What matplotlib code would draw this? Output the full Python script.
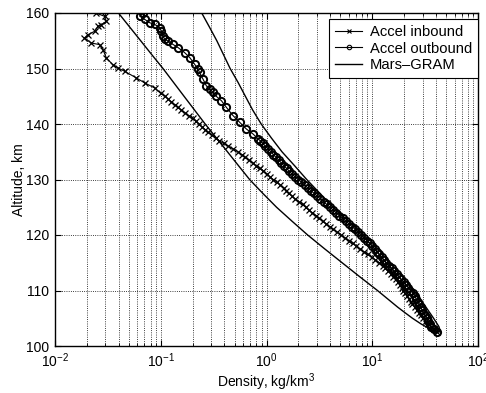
import matplotlib
matplotlib.use("Agg")
import matplotlib.pyplot as plt
from matplotlib.ticker import LogLocator, NullFormatter, MultipleLocator

plt.rcParams['font.family'] = ['Liberation Sans', 'DejaVu Sans']
plt.rcParams['mathtext.default'] = 'regular'

# ---- data (density kg/km^3, altitude km) ----
inbound_alt = [160.0, 159.4, 158.5, 157.9, 157.6, 156.7, 156.1, 155.5, 154.6, 154.3,
               153.4, 151.9, 150.7, 150.1, 149.5, 148.3, 147.4, 146.5, 145.5,
               145, 144.5, 144, 143.5, 143, 142.5, 142, 141.5, 141, 140.5, 140,
               139.5, 139, 138.5, 138, 137.5, 137, 136.5, 136, 135.5, 135,
               134.5, 134, 133.5, 133, 132.5, 132, 131.5, 131, 130.5, 130,
               129.5, 129, 128.5, 128, 127.5, 127, 126.5, 126, 125.5, 125,
               124.5, 124, 123.5, 123, 122.5, 122, 121.5, 121, 120.5, 120,
               119.5, 119, 118.5, 118, 117.5, 117, 116.5, 116, 115.5, 115,
               114.5, 114, 113.5, 113, 112.5, 112, 111.5, 111, 110.5, 110,
               109.5, 109, 108.5, 108, 107.5, 107, 106.5, 106, 105.5, 105,
               104.5, 104, 103.5, 103, 102.5]
inbound_dens = [0.0245, 0.0294, 0.0306, 0.0274, 0.0254, 0.0237, 0.0205, 0.0190, 0.0220, 0.0264,
                0.0284, 0.0306, 0.0352, 0.0394, 0.0455, 0.0588, 0.0705, 0.0876, 0.100,
                0.110, 0.117, 0.126, 0.135, 0.145, 0.157, 0.170, 0.184, 0.200, 0.214, 0.229,
                0.245, 0.263, 0.282, 0.305, 0.331, 0.355, 0.394, 0.437, 0.484, 0.537,
                0.582, 0.631, 0.684, 0.741, 0.794, 0.861, 0.933, 1.00, 1.07, 1.16,
                1.26, 1.35, 1.45, 1.53, 1.62, 1.74, 1.86, 2.02, 2.19, 2.34,
                2.51, 2.72, 2.95, 3.16, 3.39, 3.67, 3.98, 4.27, 4.68, 5.07,
                5.50, 6.03, 6.53, 7.08, 7.67, 8.32, 9.02, 9.89, 10.7, 11.7,
                12.6, 13.3, 14.1, 15.1, 15.8, 16.6, 17.4, 18.2, 19.1, 19.7,
                20.4, 21.4, 22.4, 23.2, 24.0, 25.1, 26.3, 27.5, 28.8, 30.2,
                32.0, 33.9, 36.3, 38.5, 40.7]

outbound_alt = [102.5, 103, 103.5, 104, 104.5, 105, 105.5, 106, 106.5, 107,
                107.5, 108, 108.5, 109, 109.5, 110, 110.5, 111, 111.5, 112,
                112.5, 113, 113.5, 114, 114.5, 115, 115.5, 116, 116.5, 117,
                117.5, 118, 118.5, 119, 119.5, 120, 120.5, 121, 121.5, 122,
                122.5, 123, 123.5, 124, 124.5, 125, 125.5, 126, 126.5, 127,
                127.5, 128, 128.5, 129, 129.5, 130, 130.5, 131, 131.5, 132,
                132.5, 133, 133.5, 134, 134.5, 135, 135.5, 136, 136.5, 137,
                137.31, 138.2, 139.1, 140.3, 141.5, 142.99, 144.19, 144.97, 145.69, 146.28,
                146.88, 148.08, 149.28, 149.87, 150.77, 151.97, 152.87, 153.76, 154.36, 154.96,
                155.26, 155.86, 156.76, 157.36, 157.95, 158.25, 158.85, 159.45, 159.93]
outbound_dens = [40.7, 38.5, 36.3, 35.1, 33.9, 32.7, 31.6, 30.5, 29.5, 28.8,
                 27.9, 26.9, 26.0, 25.1, 24.3, 22.9, 21.9, 20.9, 20.0, 18.8,
                 17.8, 17.0, 16.2, 15.3, 14.5, 13.6, 12.9, 12.3, 11.7, 11.2,
                 10.6, 10.0, 9.44, 8.91, 8.32, 7.76, 7.33, 6.92, 6.46, 6.03,
                 5.62, 5.25, 4.90, 4.57, 4.27, 3.98, 3.72, 3.47, 3.24, 3.02,
                 2.82, 2.63, 2.45, 2.29, 2.14, 2.00, 1.86, 1.74, 1.64, 1.55,
                 1.46, 1.38, 1.30, 1.23, 1.16, 1.10, 1.035, 0.977, 0.923, 0.871,
                 0.834, 0.746, 0.645, 0.558, 0.483, 0.418, 0.375, 0.336, 0.312, 0.290,
                 0.270, 0.251, 0.233, 0.225, 0.209, 0.188, 0.168, 0.146, 0.130, 0.117,
                 0.109, 0.105, 0.101, 0.0977, 0.0875, 0.0785, 0.0705, 0.0631, 0.0678]

gram_alt = [160, 157.5, 155, 152.5, 150, 147.5, 145, 142.5, 140, 137.5, 135, 132.5, 130,
            127.5, 125, 122.5, 120, 117.5, 115, 112.5, 110, 108.5, 107, 106, 105, 104,
            103.5, 103, 102.7, 102.5,
            103.5, 105, 107.5, 110, 112.5, 115, 117.5, 120, 122.5, 125, 127.5, 130,
            132.5, 135, 137.5, 140, 142.5, 145, 147.5, 150, 152.5, 155, 157.5, 160]
gram_dens = [0.0398, 0.0507, 0.0646, 0.0822, 0.105, 0.132, 0.166, 0.209, 0.263, 0.335, 0.427, 0.543, 0.692,
             0.923, 1.245, 1.74, 2.45, 3.55, 5.19, 7.59, 11.2, 13.96, 17.4, 20.4, 24.0, 28.8,
             32.0, 36.3, 39.8, 44.2,
             42.7, 38.0, 30.9, 23.4, 17.8, 13.5, 10.5, 8.13, 5.96, 4.27, 3.20, 2.40,
             1.84, 1.40, 1.11, 0.891, 0.741, 0.631, 0.538, 0.453, 0.392, 0.339, 0.288, 0.244]

x_label = 'Density, kg/km$^3$'
y_label = 'Altitude, km'
series_names = ['Accel inbound', 'Accel outbound', 'Mars\u2013GRAM']

fig = plt.figure(figsize=(4.86, 3.93), dpi=100)
ax = fig.add_axes([55/486, 47/393, 423/486, 333/393])

ax.semilogx(inbound_dens, inbound_alt, color='black', lw=0.8, marker='x',
            markersize=5, markeredgewidth=0.9, label=series_names[0])
ax.semilogx(outbound_dens, outbound_alt, color='black', lw=0.8, marker='o',
            markersize=5.2, markerfacecolor='none', markeredgewidth=1.4, label=series_names[1])
ax.semilogx(gram_dens, gram_alt, color='black', lw=1.0, label=series_names[2])

ax.set_xlim(1e-2, 1e2)
ax.set_ylim(100, 160)
ax.yaxis.set_major_locator(MultipleLocator(10))
ax.xaxis.set_major_locator(LogLocator(base=10, numticks=10))
ax.xaxis.set_minor_locator(LogLocator(base=10, subs=range(2, 10), numticks=20))
ax.xaxis.set_minor_formatter(NullFormatter())

ax.grid(which='major', axis='both', color='black', linestyle=':', linewidth=0.6)
ax.grid(which='minor', axis='x', color='black', linestyle=':', linewidth=0.6)

ax.tick_params(which='both', direction='in', top=True, right=True, labelsize=10, colors='black')
ax.tick_params(which='major', length=4, pad=4)
ax.tick_params(which='minor', length=2)
for s in ax.spines.values():
    s.set_linewidth(1.0)

ax.set_xlabel(x_label, fontsize=10, labelpad=1)
ax.set_ylabel(y_label, fontsize=10, labelpad=0)

leg = ax.legend(loc='upper right', bbox_to_anchor=(1.0, 0.982), borderaxespad=0,
                fontsize=10.6, fancybox=False, framealpha=1, edgecolor='black',
                handlelength=1.8, handletextpad=0.55, borderpad=0.4, labelspacing=0.18)
leg.get_frame().set_linewidth(0.8)
for h in leg.legend_handles:
    h.set_markersize(3.2)
    h.set_markeredgewidth(0.8)

fig.savefig('out.png', dpi=100)
